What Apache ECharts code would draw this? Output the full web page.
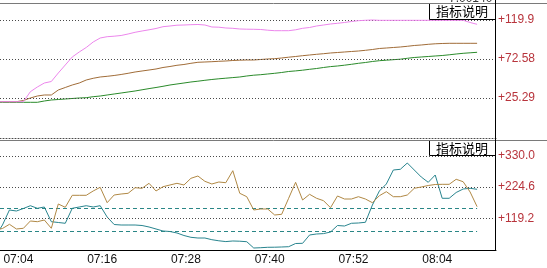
<!DOCTYPE html>
<html><head><meta charset="utf-8">
<script src="https://cdn.jsdelivr.net/npm/echarts@6/dist/echarts.min.js"></script>
<style>html,body{margin:0;padding:0;background:#fff;overflow:hidden}#c{width:547px;height:268px}</style>
</head><body><div id="c"></div>
<script>
const times = ['07:01','07:02','07:03','07:04','07:05','07:06','07:07','07:08','07:09','07:10',
'07:11','07:12','07:13','07:14','07:15','07:16','07:17','07:18','07:19','07:20',
'07:21','07:22','07:23','07:24','07:25','07:26','07:27','07:28','07:29','07:30',
'07:31','07:32','07:33','07:34','07:35','07:36','07:37','07:38','07:39','07:40',
'07:41','07:42','07:43','07:44','07:45','07:46','07:47','07:48','07:49','07:50',
'07:51','07:52','07:53','07:54','07:55','07:56','07:57','07:58','07:59','08:00',
'08:01','08:02','08:03','08:04','08:05','08:06','08:07','08:08','08:09','08:10'];

const pinkTop = [20.79,20.79,20.79,20.79,20.79,32.92,38.62,43.47,45.29,55.61,
65.31,75.02,81.08,86.54,93.21,98.06,99.64,100.25,101.1,102.92,
104.98,106.56,108.01,109.59,111.77,112.62,113.59,113.83,114.2,114.44,
113.83,111.41,111.17,110.2,109.83,108.98,108.74,108.62,108.38,107.53,
106.92,106.92,106.92,108.01,109.83,110.8,112.62,113.83,115.05,115.9,
116.87,118.08,119.05,119.54,119.9,119.5,119.5,119.5,119.5,119.5,
119.5,119.5,119.5,119.5,119.5,119.5,119.5,119.5,116.87,114.68];

const brownTop = [20.79,20.79,20.79,20.79,22.25,25.28,27.7,28.92,28.92,34.98,
38.02,41.05,43.47,47.11,49.18,50.75,51.6,52.57,53.79,55.24,
56.82,58.03,59.24,60.46,62.28,63.49,64.95,65.92,67.37,68.59,
68.95,69.31,69.8,70.16,70.77,71.13,71.38,71.38,71.98,72.59,
72.95,73.8,74.77,75.62,76.59,77.44,78.29,79.02,79.87,80.47,
81.08,81.69,82.29,83.14,84.11,85.33,85.93,86.54,87.15,88.0,
88.97,89.57,90.42,91.03,91.39,91.63,91.63,91.63,91.63,91.63];

const greenTop = [20.06,20.06,20.06,20.06,20.06,20.06,20.06,21.64,22.85,23.46,
24.07,24.67,25.28,25.64,26.86,27.7,28.92,30.13,31.34,32.56,
33.77,35.23,36.68,38.02,39.47,41.05,42.26,43.47,44.69,45.66,
46.75,47.72,48.57,49.3,50.03,50.75,51.97,52.94,53.54,54.39,
55.24,56.21,57.43,58.15,59.0,60.09,61.06,62.28,63.37,64.1,
65.07,66.16,67.37,68.34,69.56,70.53,71.13,71.74,72.35,73.44,
74.41,75.02,75.62,76.23,76.83,77.68,78.65,79.5,80.11,80.72];

const tealLow = [59.3,96.5,147.3,143.9,152.4,161.8,153.0,157.4,107.7,105.0,
102.3,153.0,157.4,161.8,157.4,161.8,123.6,98.2,96.5,96.5,
96.5,94.8,89.8,83.0,76.2,74.5,69.5,61.0,54.9,52.5,
52.5,46.8,43.1,40.4,42.4,41.7,40.0,18.7,19.7,21.1,
21.4,22.1,23.1,33.9,34.6,62.7,66.1,67.4,72.8,94.8,
93.1,102.3,103.3,105.7,164.2,211.6,235.3,282.6,285.0,306.3,
282.6,258.9,241.0,265.7,186.9,186.9,206.5,218.3,220.7,217.3];

const brownLow = [79.6,84.7,98.9,83.0,85.4,110.1,107.7,113.4,85.4,167.6,
156.4,197.0,197.0,197.0,211.6,224.1,172.0,198.0,201.4,203.8,
222.7,220.7,237.6,211.6,226.1,231.9,237.6,231.9,254.5,262.3,
244.4,235.3,242.0,239.7,280.3,203.8,192.3,147.3,150.7,150.7,
130.4,132.7,186.9,241.0,181.1,200.4,186.9,178.8,155.1,194.7,
184.5,184.5,192.3,184.5,172.0,195.7,209.2,192.3,192.3,198.0,
220.7,225.1,230.2,233.6,234.2,234.2,251.2,243.0,208.2,158.5];

const topTicks = [25.29, 72.58, 119.9];
const lowTicks = [119.2, 224.6, 330.0];
const xTickLabels = ['07:04','07:16','07:28','07:40','07:52','08:04'];
const dashLevels = [153.0, 76.2];
const legendText = '指标说明';

function toMin(s){ const p = s.split(':').map(Number); return (p[0]-7)*60 + p[1]; }
const xs = times.map(toMin);
const xTickValues = xTickLabels.map(toMin);
const pair = arr => arr.map((v,i)=>[xs[i], v]);

const X_MIN = 1.6476, X_MAX = 72.708;
const fmtY = v => '+' + (v >= 100 ? v.toFixed(1) : v.toFixed(2));
const fmtX = v => { const i = xTickValues.indexOf(v); return i >= 0 ? xTickLabels[i] : ''; };

const dotted = { color:'#4a4a4a', width:1, type:[1,2] };
const lab = { color:'#b8343c', fontSize:12, fontFamily:'Liberation Sans, Arial', margin:2 };

const chart = echarts.init(document.getElementById('c'), null, {renderer:'canvas'});
chart.setOption({
  animation:false,
  backgroundColor:'#fff',
  grid:[
    {left:0, top:3, width:496, height:135},
    {left:0, top:140, width:496, height:110}
  ],
  xAxis:[
    {type:'value', gridIndex:0, min:X_MIN, max:X_MAX, axisLine:{show:true, onZero:false, lineStyle:dotted},
     axisTick:{show:false}, axisLabel:{show:false}, splitLine:{show:false}},
    {type:'value', gridIndex:1, min:X_MIN, max:X_MAX, axisLine:{show:true, onZero:false, lineStyle:{color:'#000', width:1}},
     axisTick:{show:false}, splitLine:{show:false},
     axisLabel:{customValues:xTickValues, formatter:fmtX, color:'#111', fontSize:12,
       fontFamily:'Liberation Sans, Arial', margin:4, padding:[0,0,0,4]}}
  ],
  yAxis:[
    {type:'value', gridIndex:0, position:'right', min:-23.25, max:140.52,
     axisLine:{show:false}, axisTick:{show:false}, splitLine:{show:false},
     axisLabel:Object.assign({customValues:topTicks, formatter:fmtY}, lab)},
    {type:'value', gridIndex:1, position:'right', min:11.94, max:384.14,
     axisLine:{show:false}, axisTick:{show:false}, splitLine:{show:false},
     axisLabel:Object.assign({customValues:lowTicks, formatter:fmtY}, lab)}
  ],
  series:[
    {type:'line', xAxisIndex:0, yAxisIndex:0, data:pair(greenTop), showSymbol:false,
     lineStyle:{color:'#2a8a2a', width:1}, z:3,
     markLine:{silent:true, symbol:['none','none'], label:{show:false}, lineStyle:dotted,
       data:topTicks.map(v=>({yAxis:v}))}},
    {type:'line', xAxisIndex:0, yAxisIndex:0, data:pair(brownTop), showSymbol:false,
     lineStyle:{color:'#a06c38', width:1}, z:4},
    {type:'line', xAxisIndex:0, yAxisIndex:0, data:pair(pinkTop), showSymbol:false,
     lineStyle:{color:'#ec86ec', width:1}, z:5},
    {type:'line', xAxisIndex:1, yAxisIndex:1, data:pair(tealLow), showSymbol:false,
     lineStyle:{color:'#28848e', width:1}, z:4,
     markLine:{silent:true, symbol:['none','none'], label:{show:false},
       lineStyle:{color:'#2a8686', width:1, type:[4,3]},
       data:dashLevels.map(v=>[{coord:[X_MIN, v]},{coord:[xs[xs.length-1], v]}])}},
    {type:'line', xAxisIndex:1, yAxisIndex:1, data:pair(brownLow), showSymbol:false,
     lineStyle:{color:'#b08844', width:1}, z:5,
     markLine:{silent:true, symbol:['none','none'], label:{show:false}, lineStyle:dotted,
       data:lowTicks.map(v=>({yAxis:v}))}}
  ],
  graphic:[
    {type:'text', left:449, top:-7, z:1, style:{text:'7.00140', font:'12px Liberation Sans', fill:'#333'}},
    {type:'rect', shape:{x:429.5, y:3.5, width:66, height:16}, style:{fill:'#fff', stroke:'#000', lineWidth:1}, z:50},
    {type:'text', x:462, y:11.5, z:51, style:{text:legendText, font:'13px "Noto Sans CJK SC"', fill:'#000', align:'center', verticalAlign:'middle'}},
    {type:'rect', shape:{x:429.5, y:140.5, width:66, height:15}, style:{fill:'#fff', stroke:'#000', lineWidth:1}, z:50},
    {type:'text', x:462, y:148, z:51, style:{text:legendText, font:'13px "Noto Sans CJK SC"', fill:'#000', align:'center', verticalAlign:'middle'}},
    {type:'line', shape:{x1:0, y1:3.5, x2:547, y2:3.5}, style:{stroke:'#7a7a7a', lineWidth:1}, z:60},
    {type:'line', shape:{x1:0, y1:140.5, x2:547, y2:140.5}, style:{stroke:'#7a7a7a', lineWidth:1}, z:60},
    {type:'line', shape:{x1:495.5, y1:0, x2:495.5, y2:250.5}, style:{stroke:'#000', lineWidth:1}, z:60}
  ]
});
</script></body></html>
